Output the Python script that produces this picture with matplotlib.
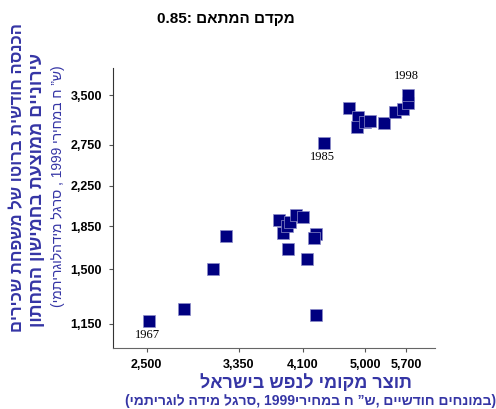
import re
import matplotlib
matplotlib.use('Agg')
import matplotlib.pyplot as plt
from matplotlib.ticker import FixedLocator, FixedFormatter, NullLocator

# GDP per capita (monthly, 1999 NIS) vs. gross monthly income of bottom-quintile families
gdp = [2518, 2813, 3086, 3216, 3804, 3853, 3902, 3939, 4015, 4106, 3915, 4158, 4279,
       4251, 4279, 4389, 4752, 4890, 4874, 4999, 5079, 5309, 5498, 5639, 5729, 5729]
income = [1165, 1236, 1501, 1763, 1906, 1789, 1851, 1887, 1952, 1934, 1654, 1576, 1780,
          1746, 1200, 2773, 3288, 3147, 2997, 3071, 3086, 3056, 3224, 3272, 3369, 3503]
years = {0: '1967', 15: '1985', 25: '1998'}

xticks = [2500, 3350, 4100, 5000, 5700]
yticks = [1150, 1500, 1850, 2250, 2750, 3500]

title_txt = 'מקדם המתאם :0.85'
ylab1 = 'הכנסה חודשית ברוטו של משפחת שכירים'
ylab2 = 'עירוניים ממוצעת בחמישון התחתון'
ylab3 = '(ש” ח במחירי 1999 , סרגל מידהלוגריתמי)'
xlab1 = 'תוצר מקומי לנפש בישראל'
xlab2 = '(במונחים חודשיים ,ש” ח במחירי1999 ,סרגל מידה לוגריתמי)'

FONT = ['Liberation Sans', 'DejaVu Sans']
LABEL_COLOR = '#3535A5'


#matplotlib has no bidi support, so put hebrew text in visual order by hand
def heb(s):
    r = s[::-1]
    r = re.sub(r'\d[\d.,]*\d|\d', lambda m: m.group(0)[::-1], r)
    return r.translate(str.maketrans('()', ')('))


plt.rcParams['font.family'] = FONT

fig = plt.figure(figsize=(4.96, 4.09), dpi=100)
ax = fig.add_axes([0.2278, 0.1491, 0.6492, 0.6846])

ax.scatter(gdp, income, marker='s', s=72, color='#000080',
           edgecolors='#8C8CC8', linewidths=0.5, zorder=3)

for i, lab in years.items():
    dy = 14 if lab == '1998' else -10
    ax.annotate(lab, (gdp[i], income[i]), xytext=(-1, dy), textcoords='offset points',
                ha='center', va='center', fontsize=9, family='Liberation Serif')

ax.set_xscale('log')
ax.set_yscale('log')
ax.set_xlim(2246, 6243)
ax.set_ylim(1022, 3996)

ax.xaxis.set_major_locator(FixedLocator(xticks))
ax.xaxis.set_major_formatter(FixedFormatter([f'{v:,}' for v in xticks]))
ax.yaxis.set_major_locator(FixedLocator(yticks))
ax.yaxis.set_major_formatter(FixedFormatter([f'{v:,}' for v in yticks]))
ax.xaxis.set_minor_locator(NullLocator())
ax.yaxis.set_minor_locator(NullLocator())

for s in ['top', 'right']:
    ax.spines[s].set_visible(False)
ax.spines['left'].set_color('#333333')
ax.spines['bottom'].set_color('#666666')
ax.tick_params(axis='both', length=3, width=0.8, color='#555555', labelsize=9, pad=5)
for t in ax.get_xticklabels() + ax.get_yticklabels():
    t.set_fontweight('bold')

fig.text(226 / 496, 1 - 19 / 409, heb(title_txt), ha='center', va='center',
         fontsize=11, fontweight='bold')

fig.text(18 / 496, 1 - 178 / 409, heb(ylab1), rotation=90, ha='center', va='center',
         fontsize=12, fontweight='bold', color=LABEL_COLOR)
fig.text(38 / 496, 1 - 190 / 409, heb(ylab2), rotation=90, ha='center', va='center',
         fontsize=13, fontweight='bold', color=LABEL_COLOR)
fig.text(58 / 496, 1 - 186 / 409, heb(ylab3), rotation=90, ha='center', va='center',
         fontsize=10, color=LABEL_COLOR)

fig.text(306 / 496, 1 - 383 / 409, heb(xlab1), ha='center', va='center',
         fontsize=13, fontweight='bold', color=LABEL_COLOR)
fig.text(311 / 496, 1 - 401 / 409, heb(xlab2), ha='center', va='center',
         fontsize=10, fontweight='bold', color=LABEL_COLOR)

fig.savefig('out.png', dpi=100)
